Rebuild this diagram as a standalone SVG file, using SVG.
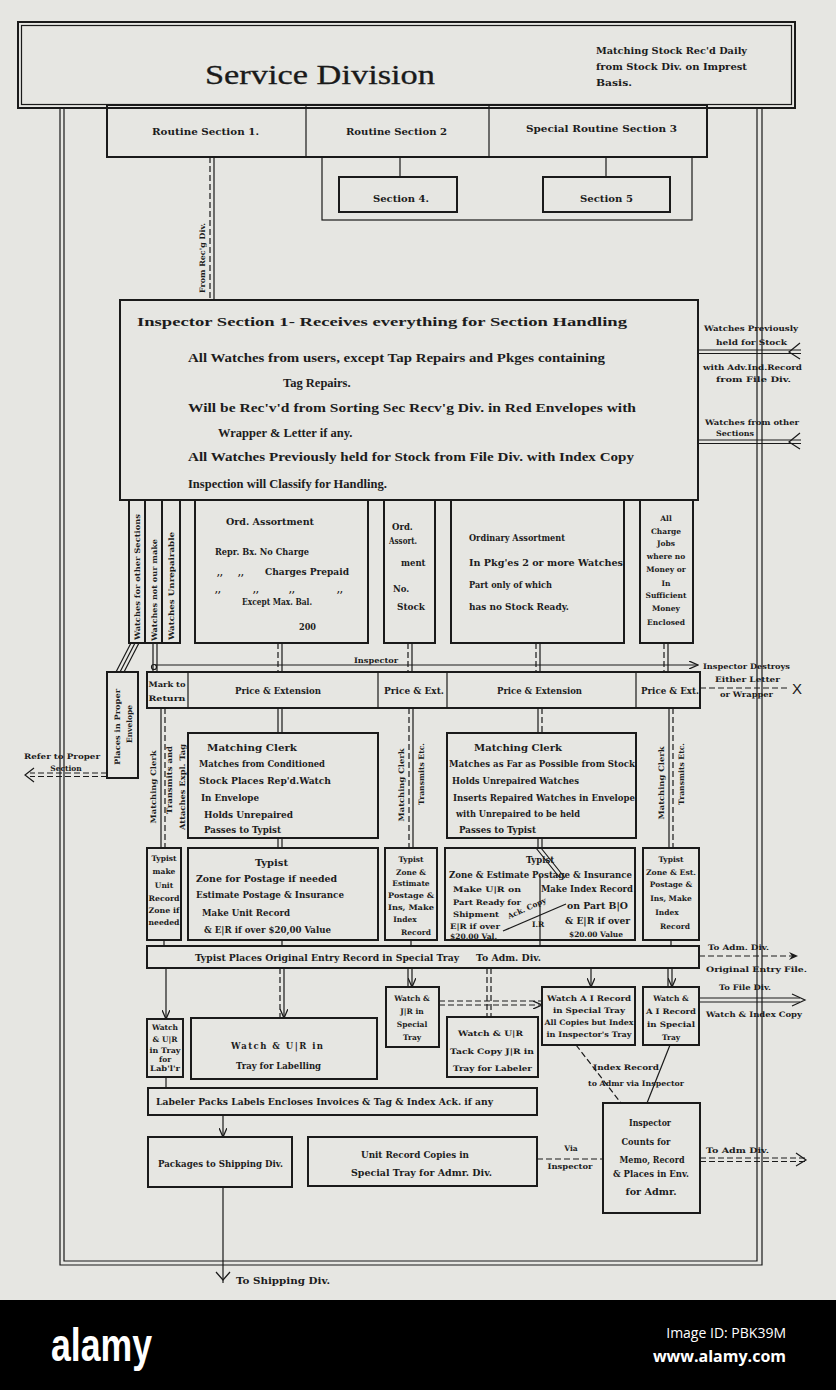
<svg xmlns="http://www.w3.org/2000/svg" width="836" height="1390" viewBox="0 0 836 1390">
<defs>
<style>
.t{font-family:"DejaVu Serif","Liberation Serif",serif;font-weight:bold;font-size:8.5px;fill:#1c1c1c}
.s{font-size:7.5px}
.m{text-anchor:middle}
.big{font-family:"Liberation Serif","DejaVu Serif",serif;font-size:12.5px;font-weight:bold;fill:#1c1c1c}
.box{fill:none;stroke:#1a1a1a;stroke-width:2}
.ln{fill:none;stroke:#1a1a1a;stroke-width:1.2}
.dl{fill:none;stroke:#1a1a1a;stroke-width:1.2;stroke-dasharray:6 3}
</style>
<marker id="ah" markerWidth="10" markerHeight="8" refX="9" refY="4" orient="auto" markerUnits="userSpaceOnUse">
<path d="M0,0 L9,4 L0,8" fill="none" stroke="#1a1a1a" stroke-width="1.3"/>
</marker>
<marker id="af" markerWidth="10" markerHeight="8" refX="9" refY="4" orient="auto" markerUnits="userSpaceOnUse">
<path d="M0,0 L9,4 L0,8 L3,4 Z" fill="#1a1a1a"/>
</marker>
</defs>
<rect x="0" y="0" width="836" height="1390" fill="#e6e6e2"/>

<g id="frame">
<path d="M60,108 V1265 H762 V108" class="ln" stroke-width="1.6"/>
<path d="M64,108 V1261 H757 V108" class="ln"/>
</g>

<g id="header">
<rect x="18" y="22" width="777" height="86" class="box" fill="#e8e8e4"/>
<rect x="21.5" y="25.5" width="770" height="79" class="ln"/>
<text x="320" y="84" font-family="Liberation Serif, DejaVu Serif, serif" font-size="27" fill="#1a1a1a" stroke="#1a1a1a" stroke-width="0.3" text-anchor="middle" textLength="230" lengthAdjust="spacingAndGlyphs">Service  Division</text>
<text class="t" x="596" y="54" textLength="151" lengthAdjust="spacingAndGlyphs">Matching Stock Rec'd Daily</text>
<text class="t" x="596" y="70" textLength="151" lengthAdjust="spacingAndGlyphs">from Stock Div. on Imprest</text>
<text class="t" x="596" y="86" textLength="36" lengthAdjust="spacingAndGlyphs">Basis.</text>
</g>

<g id="routine">
<rect x="107" y="105" width="600" height="52" class="box" fill="#e8e8e4"/>
<line x1="306" y1="105" x2="306" y2="157" class="ln" stroke-width="1.6"/>
<line x1="489" y1="105" x2="489" y2="157" class="ln" stroke-width="1.6"/>
<text class="t" x="152" y="135" font-size="9.5" textLength="107" lengthAdjust="spacingAndGlyphs">Routine  Section  1.</text>
<text class="t" x="346" y="135" font-size="9.5" textLength="101" lengthAdjust="spacingAndGlyphs">Routine  Section  2</text>
<text class="t" x="526" y="132" font-size="9.5" textLength="151" lengthAdjust="spacingAndGlyphs">Special  Routine  Section  3</text>
</g>

<g id="sections45">
<rect x="322" y="157" width="370" height="63" class="ln" stroke-width="1.6"/>
<line x1="400" y1="157" x2="400" y2="177" class="ln"/>
<line x1="606" y1="157" x2="606" y2="177" class="ln"/>
<rect x="339" y="177" width="118" height="35" class="box"/>
<text class="t" x="373" y="202" font-size="9" textLength="56" lengthAdjust="spacingAndGlyphs">Section  4.</text>
<rect x="543" y="177" width="127" height="35" class="box"/>
<text class="t" x="580" y="202" font-size="9" textLength="53" lengthAdjust="spacingAndGlyphs">Section  5</text>
</g>

<g id="inspector1">
<rect x="120" y="300" width="578" height="200" class="box" fill="#e8e8e4"/>
<text class="big" x="137" y="326" font-size="14.5" textLength="490" lengthAdjust="spacingAndGlyphs">Inspector Section 1-   Receives everything for Section Handling</text>
<text class="big" x="188" y="362" textLength="417" lengthAdjust="spacingAndGlyphs">All Watches     from users, except Tap Repairs and Pkges containing</text>
<text class="big" x="283" y="387">Tag Repairs.</text>
<text class="big" x="188" y="412" textLength="448" lengthAdjust="spacingAndGlyphs">Will be Rec'v'd from Sorting Sec Recv'g Div. in Red Envelopes with</text>
<text class="big" x="218" y="437">Wrapper &amp; Letter if any.</text>
<text class="big" x="188" y="461" textLength="446" lengthAdjust="spacingAndGlyphs">All Watches Previously held for Stock    from File Div. with Index Copy</text>
<text class="big" x="188" y="488">Inspection will Classify for Handling.</text>
</g>

<g id="rightInputs">
<text class="t s" x="704" y="331" textLength="94" lengthAdjust="spacingAndGlyphs">Watches Previously</text>
<text class="t s" x="716" y="345" textLength="71" lengthAdjust="spacingAndGlyphs">held for Stock</text>
<text class="t s" x="703" y="370" textLength="99" lengthAdjust="spacingAndGlyphs">with Adv.Ind.Record</text>
<text class="t s" x="716" y="382" textLength="75" lengthAdjust="spacingAndGlyphs">from File Div.</text>
<text class="t s" x="705" y="425" textLength="94" lengthAdjust="spacingAndGlyphs">Watches from other</text>
<text class="t s" x="716" y="436" textLength="38" lengthAdjust="spacingAndGlyphs">Sections</text>
</g>

<g id="narrow">
<rect x="129" y="500" width="16" height="143" class="box" stroke-width="1.6"/>
<rect x="145" y="500" width="17" height="143" class="box" stroke-width="1.6"/>
<rect x="162" y="500" width="18" height="143" class="box" stroke-width="1.6"/>
<text class="t s m" transform="translate(140,577) rotate(-90)" textLength="126" lengthAdjust="spacingAndGlyphs">Watches for other Sections</text>
<text class="t s m" transform="translate(157,590) rotate(-90)" textLength="102" lengthAdjust="spacingAndGlyphs">Watches not our make</text>
<text class="t s m" transform="translate(174,586) rotate(-90)" textLength="108" lengthAdjust="spacingAndGlyphs">Watches Unrepairable</text>
</g>

<g id="ordAssort">
<rect x="195" y="500" width="173" height="143" class="box"/>
<text class="t" x="226" y="525" textLength="88" lengthAdjust="spacingAndGlyphs">Ord. Assortment</text>
<text class="t" x="215" y="555" textLength="94" lengthAdjust="spacingAndGlyphs">Repr. Bx. No Charge</text>
<text class="t" x="217" y="575">,,</text>
<text class="t" x="238" y="575">,,</text>
<text class="t" x="265" y="575" textLength="84" lengthAdjust="spacingAndGlyphs">Charges Prepaid</text>
<text class="t" x="215" y="592">,,</text>
<text class="t" x="253" y="592">,,</text>
<text class="t" x="289" y="592">,,</text>
<text class="t" x="337" y="592">,,</text>
<text class="t" x="242" y="605" textLength="70" lengthAdjust="spacingAndGlyphs">Except Max. Bal.</text>
<text class="t" x="299" y="630" textLength="17" lengthAdjust="spacingAndGlyphs">200</text>
</g>

<g id="ordNoStock">
<rect x="384" y="500" width="51" height="143" class="box"/>
<text class="t" x="392" y="530">Ord.</text>
<text class="t" x="389" y="544" textLength="28" lengthAdjust="spacingAndGlyphs">Assort.</text>
<text class="t" x="401" y="566">ment</text>
<text class="t" x="393" y="592">No.</text>
<text class="t" x="397" y="610" textLength="28" lengthAdjust="spacingAndGlyphs">Stock</text>
</g>

<g id="ordPkg">
<rect x="451" y="500" width="173" height="143" class="box"/>
<text class="t" x="469" y="541" textLength="96" lengthAdjust="spacingAndGlyphs">Ordinary Assortment</text>
<text class="t" x="469" y="566" textLength="154" lengthAdjust="spacingAndGlyphs">In Pkg'es 2 or more Watches</text>
<text class="t" x="469" y="588" textLength="83" lengthAdjust="spacingAndGlyphs">Part only of which</text>
<text class="t" x="469" y="610" textLength="100" lengthAdjust="spacingAndGlyphs">has no Stock Ready.</text>
</g>

<g id="chargeJobs">
<rect x="640" y="500" width="53" height="143" class="box"/>
<text class="t s m" x="666" y="521">All</text>
<text class="t s m" x="666" y="534">Charge</text>
<text class="t s m" x="666" y="546">Jobs</text>
<text class="t s m" x="666" y="559">where no</text>
<text class="t s m" x="666" y="572">Money or</text>
<text class="t s m" x="666" y="586">In</text>
<text class="t s m" x="666" y="598">Sufficient</text>
<text class="t s m" x="666" y="611">Money</text>
<text class="t s m" x="666" y="625">Enclosed</text>
</g>

<g id="placesEnvelope">
<rect x="107" y="672" width="31" height="106" class="box"/>
<text class="t s m" transform="translate(120,727) rotate(-90)" textLength="76" lengthAdjust="spacingAndGlyphs">Places in Proper</text>
<text class="t s m" transform="translate(132,724) rotate(-90)">Envelope</text>
<text class="t s m" x="62" y="759" textLength="76" lengthAdjust="spacingAndGlyphs">Refer to Proper</text>
<text class="t s m" x="66" y="771">Section</text>
</g>

<g id="priceRow">
<rect x="147" y="672" width="553" height="36" class="box"/>
<line x1="188" y1="672" x2="188" y2="708" class="ln" stroke-width="1.6"/>
<line x1="378" y1="672" x2="378" y2="708" class="ln" stroke-width="1.6"/>
<line x1="447" y1="672" x2="447" y2="708" class="ln" stroke-width="1.6"/>
<line x1="636" y1="672" x2="636" y2="708" class="ln" stroke-width="1.6"/>
<text class="t s m" x="167" y="687" textLength="37" lengthAdjust="spacingAndGlyphs">Mark to</text>
<text class="t s m" x="167" y="701" textLength="37" lengthAdjust="spacingAndGlyphs">Return</text>
<text class="t" x="235" y="694" textLength="86" lengthAdjust="spacingAndGlyphs">Price &amp; Extension</text>
<text class="t" x="384" y="694" textLength="60" lengthAdjust="spacingAndGlyphs">Price &amp; Ext.</text>
<text class="t" x="497" y="694" textLength="85" lengthAdjust="spacingAndGlyphs">Price &amp; Extension</text>
<text class="t" x="641" y="694" textLength="58" lengthAdjust="spacingAndGlyphs">Price &amp; Ext.</text>
</g>

<g id="destroys">
<text class="t s" x="703" y="669" textLength="87" lengthAdjust="spacingAndGlyphs">Inspector Destroys</text>
<text class="t s" x="715" y="682" textLength="65" lengthAdjust="spacingAndGlyphs">Either Letter</text>
<text class="t s" x="720" y="697" textLength="53" lengthAdjust="spacingAndGlyphs">or Wrapper</text>
<text x="797" y="694" font-family="Liberation Sans, sans-serif" font-size="15" fill="#1a1a1a" text-anchor="middle">X</text>
</g>

<g id="matchingLabels">
<text class="t s m" transform="translate(156,787) rotate(-90)" textLength="73" lengthAdjust="spacingAndGlyphs">Matching Clerk</text>
<text class="t s m" transform="translate(172,780) rotate(-90)" textLength="68" lengthAdjust="spacingAndGlyphs">Transmits and</text>
<text class="t s m" transform="translate(185,787) rotate(-90)" textLength="86" lengthAdjust="spacingAndGlyphs">Attaches Expl. Tag</text>
<text class="t s m" transform="translate(404,785) rotate(-90)" textLength="73" lengthAdjust="spacingAndGlyphs">Matching Clerk</text>
<text class="t s m" transform="translate(424,774) rotate(-90)" textLength="62" lengthAdjust="spacingAndGlyphs">Transmits Etc.</text>
<text class="t s m" transform="translate(664,783) rotate(-90)" textLength="73" lengthAdjust="spacingAndGlyphs">Matching Clerk</text>
<text class="t s m" transform="translate(684,774) rotate(-90)" textLength="62" lengthAdjust="spacingAndGlyphs">Transmits Etc.</text>
</g>

<g id="matchingClerk1">
<rect x="188" y="733" width="190" height="105" class="box"/>
<text class="t" x="207" y="751" font-size="10" textLength="90" lengthAdjust="spacingAndGlyphs">Matching  Clerk</text>
<text class="t" x="199" y="767" textLength="126" lengthAdjust="spacingAndGlyphs">Matches from Conditioned</text>
<text class="t" x="199" y="784" textLength="132" lengthAdjust="spacingAndGlyphs">Stock  Places Rep'd.Watch</text>
<text class="t" x="201" y="801" textLength="58" lengthAdjust="spacingAndGlyphs">In Envelope</text>
<text class="t" x="204" y="818" textLength="89" lengthAdjust="spacingAndGlyphs">Holds Unrepaired</text>
<text class="t" x="204" y="833" textLength="77" lengthAdjust="spacingAndGlyphs">Passes to Typist</text>
</g>

<g id="matchingClerk2">
<rect x="447" y="733" width="189" height="105" class="box"/>
<text class="t" x="474" y="751" font-size="10" textLength="88" lengthAdjust="spacingAndGlyphs">Matching  Clerk</text>
<text class="t" x="449" y="767" textLength="186" lengthAdjust="spacingAndGlyphs">Matches as Far as Possible from Stock</text>
<text class="t" x="452" y="784" textLength="127" lengthAdjust="spacingAndGlyphs">Holds Unrepaired Watches</text>
<text class="t" x="453" y="801" textLength="182" lengthAdjust="spacingAndGlyphs">Inserts Repaired Watches in Envelope</text>
<text class="t" x="456" y="817" textLength="124" lengthAdjust="spacingAndGlyphs">with Unrepaired to be held</text>
<text class="t" x="459" y="833" textLength="77" lengthAdjust="spacingAndGlyphs">Passes to Typist</text>
</g>

<g id="typist0">
<rect x="147" y="848" width="34" height="92" class="box"/>
<text class="t s m" x="164" y="861">Typist</text>
<text class="t s m" x="164" y="874">make</text>
<text class="t s m" x="164" y="888">Unit</text>
<text class="t s m" x="164" y="901" textLength="31" lengthAdjust="spacingAndGlyphs">Record</text>
<text class="t s m" x="164" y="913" textLength="31" lengthAdjust="spacingAndGlyphs">Zone if</text>
<text class="t s m" x="164" y="925" textLength="31" lengthAdjust="spacingAndGlyphs">needed</text>
</g>

<g id="typist1">
<rect x="188" y="848" width="190" height="92" class="box"/>
<text class="t" x="255" y="866" font-size="10" textLength="33" lengthAdjust="spacingAndGlyphs">Typist</text>
<text class="t" x="196" y="882" textLength="141" lengthAdjust="spacingAndGlyphs">Zone for Postage if needed</text>
<text class="t" x="196" y="898" textLength="148" lengthAdjust="spacingAndGlyphs">Estimate Postage &amp; Insurance</text>
<text class="t" x="202" y="916" textLength="88" lengthAdjust="spacingAndGlyphs">Make Unit Record</text>
<text class="t" x="204" y="933" textLength="127" lengthAdjust="spacingAndGlyphs">&amp; E|R if over $20,00 Value</text>
</g>

<g id="typist2">
<rect x="385" y="848" width="52" height="92" class="box"/>
<text class="t s m" x="411" y="862">Typist</text>
<text class="t s m" x="411" y="875">Zone &amp;</text>
<text class="t s m" x="411" y="886">Estimate</text>
<text class="t s m" x="411" y="898" textLength="46" lengthAdjust="spacingAndGlyphs">Postage &amp;</text>
<text class="t s m" x="411" y="910" textLength="46" lengthAdjust="spacingAndGlyphs">Ins, Make</text>
<text class="t s m" x="405" y="922">Index</text>
<text class="t s m" x="416" y="935">Record</text>
</g>

<g id="typist3">
<rect x="445" y="848" width="190" height="92" class="box"/>
<line x1="540" y1="876" x2="540" y2="940" class="ln" stroke-width="0.9"/>
<path d="M536,848 L560,878 M541,848 L565,878" class="ln" stroke-width="0.9"/>
<text class="t m" x="540" y="863" font-size="9.5">Typist</text>
<text class="t" x="449" y="878" textLength="183" lengthAdjust="spacingAndGlyphs">Zone &amp; Estimate Postage &amp; Insurance</text>
<text class="t s" x="453" y="892" textLength="68" lengthAdjust="spacingAndGlyphs">Make U|R on</text>
<text class="t" x="541" y="892" textLength="92" lengthAdjust="spacingAndGlyphs">Make Index Record</text>
<text class="t s" x="453" y="905" textLength="68" lengthAdjust="spacingAndGlyphs">Part Ready for</text>
<text class="t s" x="453" y="917" textLength="46" lengthAdjust="spacingAndGlyphs">Shipment</text>
<text class="t" x="567" y="909" textLength="61" lengthAdjust="spacingAndGlyphs">on Part B|O</text>
<text class="t s" x="450" y="929" textLength="50" lengthAdjust="spacingAndGlyphs">E|R if over</text>
<text class="t s" x="450" y="939" textLength="47" lengthAdjust="spacingAndGlyphs">$20,00 Val.</text>
<text class="t" x="565" y="924" textLength="65" lengthAdjust="spacingAndGlyphs">&amp; E|R if over</text>
<text class="t s" x="569" y="937" textLength="54" lengthAdjust="spacingAndGlyphs">$20.00 Value</text>
<line x1="503" y1="931" x2="566" y2="904" class="ln" stroke-width="1.6"/>
<text class="t s" transform="translate(509,919) rotate(-24)">Ack. Copy</text>
<text class="t s" x="532" y="927">I.R</text>
</g>

<g id="typist4">
<rect x="643" y="848" width="56" height="92" class="box"/>
<text class="t s m" x="671" y="862">Typist</text>
<text class="t s m" x="671" y="875" textLength="50" lengthAdjust="spacingAndGlyphs">Zone &amp; Est.</text>
<text class="t s m" x="671" y="887">Postage &amp;</text>
<text class="t s m" x="671" y="901">Ins, Make</text>
<text class="t s m" x="667" y="915">Index</text>
<text class="t s m" x="675" y="929">Record</text>
</g>

<g id="typistPlaces">
<rect x="147" y="946" width="552" height="22" class="box"/>
<text class="t" x="195" y="961" textLength="264" lengthAdjust="spacingAndGlyphs">Typist Places  Original Entry Record  in Special Tray</text>
<text class="t" x="476" y="961" textLength="65" lengthAdjust="spacingAndGlyphs">To Adm. Div.</text>
<text class="t s" x="708" y="950" textLength="61" lengthAdjust="spacingAndGlyphs">To Adm. Div.</text>
<text class="t s" x="706" y="972" textLength="101" lengthAdjust="spacingAndGlyphs">Original Entry File.</text>
<text class="t s" x="719" y="990" textLength="52" lengthAdjust="spacingAndGlyphs">To File Div.</text>
<text class="t s" x="706" y="1017" textLength="96" lengthAdjust="spacingAndGlyphs">Watch &amp; Index Copy</text>
</g>

<g id="watch0">
<rect x="147" y="1019" width="36" height="58" class="box"/>
<text class="t s m" x="165" y="1030">Watch</text>
<text class="t s m" x="165" y="1042">&amp; U|R</text>
<text class="t s m" x="165" y="1053" textLength="31" lengthAdjust="spacingAndGlyphs">in Tray</text>
<text class="t s m" x="165" y="1062">for</text>
<text class="t s m" x="165" y="1071" textLength="30" lengthAdjust="spacingAndGlyphs">Lab'l'r</text>
</g>

<g id="watch1">
<rect x="191" y="1018" width="186" height="61" class="box"/>
<text class="t" x="231" y="1049" textLength="92" lengthAdjust="spacing">Watch  &amp; U|R  in</text>
<text class="t" x="236" y="1069" textLength="85" lengthAdjust="spacingAndGlyphs">Tray for Labelling</text>
</g>

<g id="watch2">
<rect x="386" y="987" width="53" height="60" class="box"/>
<text class="t s m" x="412" y="1001">Watch &amp;</text>
<text class="t s m" x="412" y="1014">J|R in</text>
<text class="t s m" x="412" y="1027">Special</text>
<text class="t s m" x="412" y="1040">Tray</text>
</g>

<g id="watch3">
<rect x="447" y="1017" width="91" height="60" class="box"/>
<text class="t s" x="458" y="1036" textLength="65" lengthAdjust="spacingAndGlyphs">Watch &amp; U|R</text>
<text class="t s" x="450" y="1054" textLength="84" lengthAdjust="spacingAndGlyphs">Tack Copy J|R in</text>
<text class="t s" x="453" y="1071" textLength="79" lengthAdjust="spacingAndGlyphs">Tray for Labeler</text>
</g>

<g id="watch4">
<rect x="542" y="987" width="93" height="58" class="box"/>
<text class="t s m" x="589" y="1001" textLength="84" lengthAdjust="spacingAndGlyphs">Watch A I Record</text>
<text class="t s m" x="589" y="1013" textLength="72" lengthAdjust="spacingAndGlyphs">in Special Tray</text>
<text class="t s m" x="589" y="1025" textLength="89" lengthAdjust="spacingAndGlyphs">All Copies but Index</text>
<text class="t s m" x="589" y="1037" textLength="85" lengthAdjust="spacingAndGlyphs">in Inspector's Tray</text>
</g>

<g id="watch5">
<rect x="643" y="987" width="56" height="58" class="box"/>
<text class="t s m" x="671" y="1001">Watch &amp;</text>
<text class="t s m" x="671" y="1014" textLength="50" lengthAdjust="spacingAndGlyphs">A I Record</text>
<text class="t s m" x="671" y="1027" textLength="48" lengthAdjust="spacingAndGlyphs">in Special</text>
<text class="t s m" x="671" y="1040">Tray</text>
</g>

<g id="indexRecord">
<text class="t s" x="593" y="1070" textLength="66" lengthAdjust="spacingAndGlyphs">Index Record</text>
<text class="t s" x="588" y="1086" textLength="96" lengthAdjust="spacingAndGlyphs">to Admr via Inspector</text>
</g>

<g id="labeler">
<rect x="148" y="1088" width="389" height="27" class="box"/>
<text class="t" x="156" y="1105" textLength="337" lengthAdjust="spacingAndGlyphs">Labeler  Packs Labels  Encloses Invoices &amp; Tag  &amp; Index Ack. if any</text>
</g>

<g id="packages">
<rect x="148" y="1137" width="144" height="50" class="box"/>
<text class="t" x="158" y="1167" textLength="125" lengthAdjust="spacingAndGlyphs">Packages to Shipping Div.</text>
</g>

<g id="unitRecord">
<rect x="308" y="1137" width="229" height="49" class="box"/>
<text class="t" x="361" y="1158" textLength="108" lengthAdjust="spacingAndGlyphs">Unit Record Copies in</text>
<text class="t" x="351" y="1176" textLength="141" lengthAdjust="spacingAndGlyphs">Special Tray for Admr. Div.</text>
</g>

<g id="inspector2">
<rect x="603" y="1103" width="97" height="110" class="box"/>
<text class="t m" x="650" y="1126" textLength="42" lengthAdjust="spacingAndGlyphs">Inspector</text>
<text class="t m" x="646" y="1145" textLength="49" lengthAdjust="spacingAndGlyphs">Counts for</text>
<text class="t m" x="652" y="1163" textLength="65" lengthAdjust="spacingAndGlyphs">Memo, Record</text>
<text class="t m" x="651" y="1177" textLength="76" lengthAdjust="spacingAndGlyphs">&amp; Places in Env.</text>
<text class="t m" x="651" y="1195" textLength="51" lengthAdjust="spacingAndGlyphs">for Admr.</text>
<text class="t s m" x="571" y="1151">Via</text>
<text class="t s m" x="570" y="1169" textLength="45" lengthAdjust="spacingAndGlyphs">Inspector</text>
<text class="t s" x="706" y="1153" textLength="63" lengthAdjust="spacingAndGlyphs">To Adm Div.</text>
<text class="t" x="236" y="1284" textLength="94" lengthAdjust="spacingAndGlyphs">To Shipping Div.</text>
</g>

<g id="connectors">
<line x1="210" y1="157" x2="210" y2="300" class="dl"/>
<line x1="214" y1="157" x2="214" y2="300" class="ln"/>
<text class="t s m" transform="translate(205,258) rotate(-90)" textLength="70" lengthAdjust="spacingAndGlyphs">From Rec'g Div.</text>
<path d="M698,350 H801 M698,353.5 H801" class="ln"/>
<path d="M800,343 L789,352 L800,359" class="ln" stroke-width="1.4"/>
<path d="M698,440 H801 M698,443.5 H801" class="ln"/>
<path d="M800,433 L789,442 L800,449" class="ln" stroke-width="1.4"/>
<path d="M131,643 L116,672 M135,643 L120,672 M139,643 L124,672" class="ln"/>
<path d="M153,643 V672 M157,643 V672" class="ln"/>
<path d="M278,643 V672" class="dl"/><path d="M282,643 V672" class="ln"/>
<path d="M408,643 V672" class="dl"/><path d="M412,643 V672" class="ln"/>
<path d="M536,643 V672" class="dl"/><path d="M540,643 V672" class="ln"/>
<path d="M664,643 V672" class="dl"/><path d="M668,643 V672" class="ln"/>
<path d="M155,665 H698" class="ln" marker-end="url(#ah)"/>
<circle cx="154" cy="667" r="2.5" class="ln"/>
<text class="t s" x="354" y="663" textLength="44" lengthAdjust="spacingAndGlyphs">Inspector</text>
<path d="M700,688 H790" class="dl"/>
<path d="M107,773 H30 M107,776.5 H30" class="dl"/>
<path d="M34,768 L25,775 L34,782" class="ln" stroke-width="1.6"/>
<path d="M161,708 V848" class="ln"/><path d="M165,708 V848" class="dl"/>
<path d="M409,708 V848" class="dl"/><path d="M413,708 V848" class="ln"/>
<path d="M669,708 V848" class="ln"/><path d="M673,708 V848" class="dl"/>
<path d="M278,708 V733 M282,708 V733" class="ln"/>
<path d="M538,708 V733" class="ln"/><path d="M542,708 V733" class="dl"/>
<path d="M278,838 V848 M282,838 V848" class="ln"/>
<path d="M538,838 V848 M542,838 V848" class="ln"/>
<path d="M164,940 V946 M282,940 V946 M411,940 V946 M540,940 V946 M671,940 V946" class="ln"/>
<path d="M166,968 V1019" class="ln" marker-end="url(#ah)"/>
<path d="M280,968 V1018" class="dl"/><path d="M284,968 V1018" class="ln" marker-end="url(#ah)"/>
<path d="M408,968 V987" class="ln"/><path d="M412,968 V987" class="ln" marker-end="url(#ah)"/>
<path d="M487,968 V1017 M491,968 V1017" class="dl"/>
<path d="M591,968 V987" class="ln" marker-end="url(#ah)"/>
<path d="M668,968 V987" class="ln"/><path d="M672,968 V987" class="ln" marker-end="url(#ah)"/>
<path d="M439,1001 H542" class="dl"/><path d="M439,1005 H542" class="dl" marker-end="url(#ah)"/>
<path d="M699,956 H798" class="dl" marker-end="url(#af)"/>
<path d="M699,998 H800 M699,1002 H800" class="ln"/>
<path d="M792,994 L805,1000 L792,1006" class="ln" stroke-width="1.6"/>
<path d="M576,1045 L621,1103" class="dl"/>
<path d="M670,1045 L647,1103" class="ln"/>
<path d="M166,1077 V1088" class="ln"/>
<path d="M223,1115 V1137" class="ln" marker-end="url(#ah)"/>
<path d="M537,1159 H603" class="dl"/>
<path d="M700,1158 H805 M700,1161.5 H805" class="dl"/>
<path d="M796,1153 L806,1160 L796,1166" class="ln" stroke-width="1.6"/>
<path d="M223,1187 V1283" class="ln" stroke-width="1.4"/>
<path d="M216,1272 L223,1280 L230,1272" class="ln" stroke-width="1.6"/>
</g>

<g id="footer">
<rect x="0" y="1300" width="836" height="90" fill="#000"/>
<text x="51" y="1361" font-family="Liberation Sans, Arial, sans-serif" font-weight="bold" font-size="46" fill="#fff" textLength="101" lengthAdjust="spacingAndGlyphs">alamy</text>
<text x="786" y="1338" font-family="Open Sans, Liberation Sans, sans-serif" font-size="14" fill="#fff" text-anchor="end">Image ID: PBK39M</text>
<text x="786" y="1362" font-family="Open Sans, Liberation Sans, sans-serif" font-weight="bold" font-size="16" fill="#fff" text-anchor="end">www.alamy.com</text>
</g>
</svg>
